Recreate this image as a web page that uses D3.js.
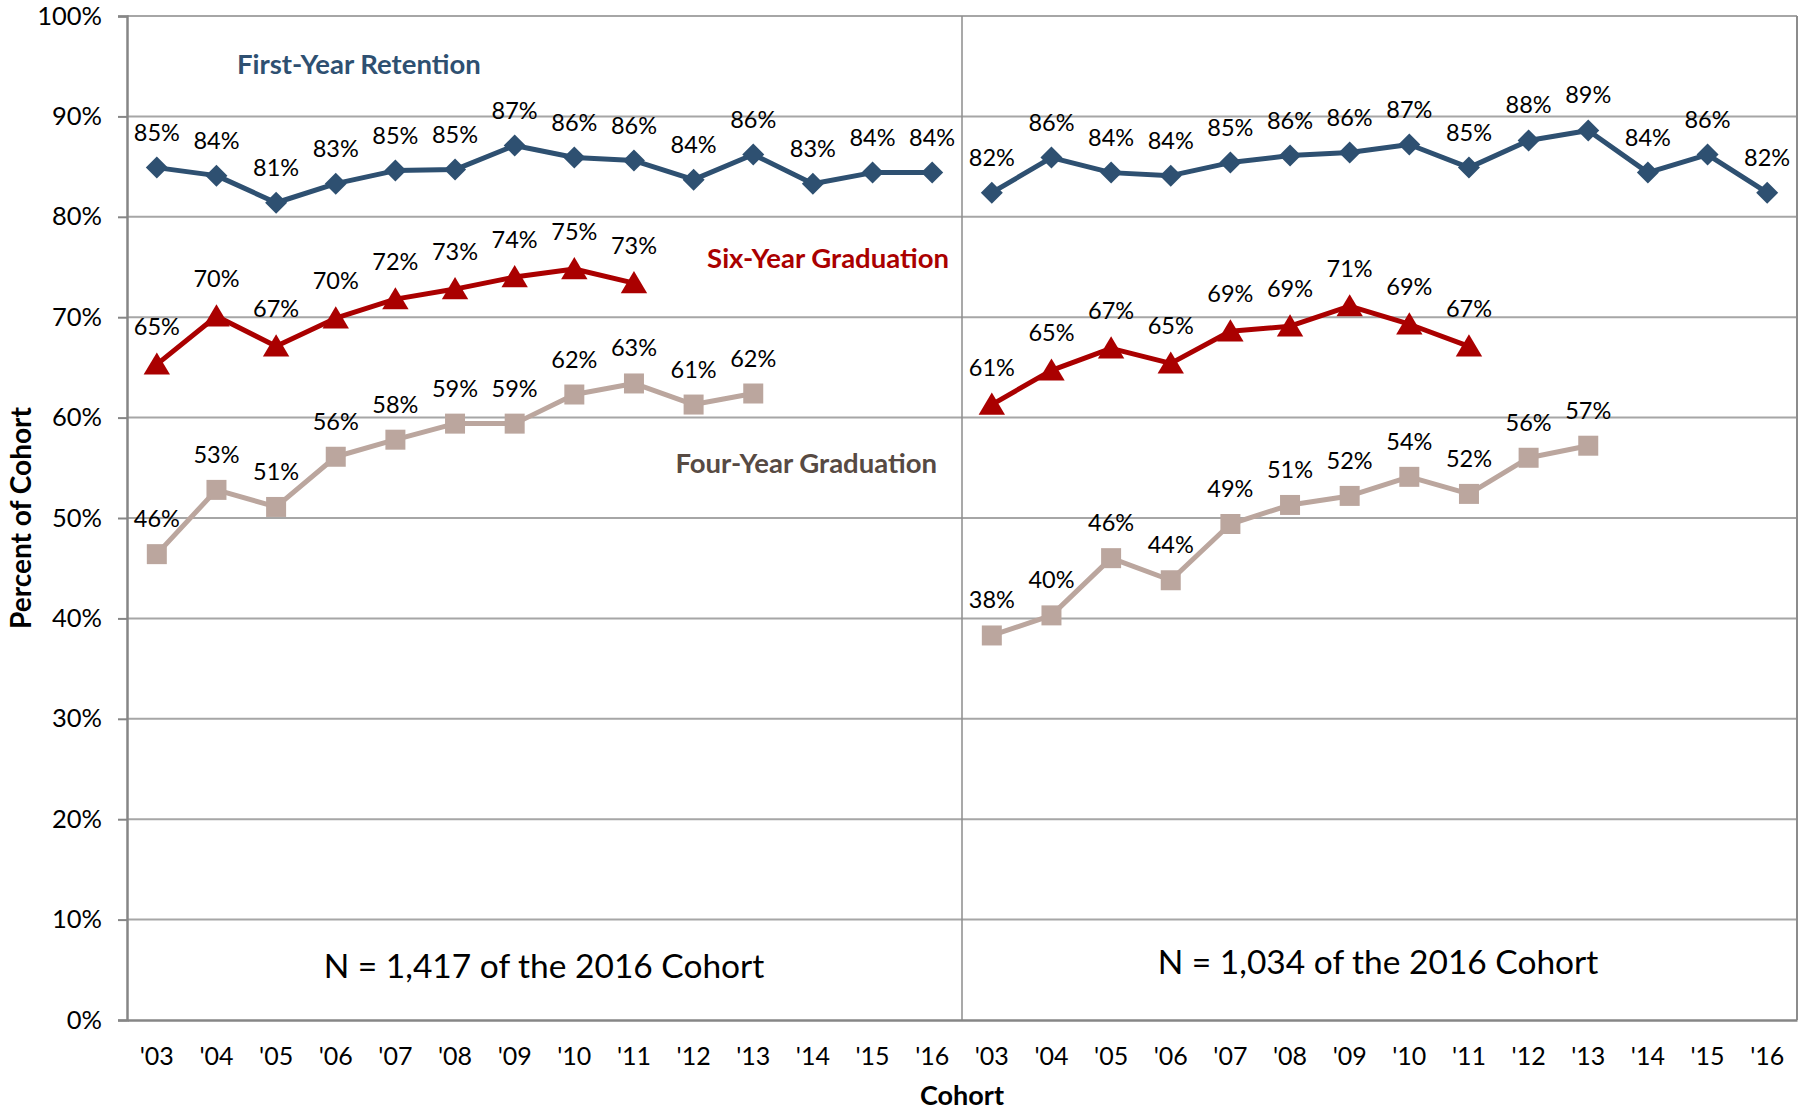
<!DOCTYPE html>
<html>
<head>
<meta charset="utf-8">
<script src="https://cdn.jsdelivr.net/npm/d3@7"></script>
<style>
  html, body { margin: 0; padding: 0; background: #ffffff; }
  svg { display: block; font-family: Lato, "Open Sans", sans-serif; }
</style>
</head>
<body>
<svg id="chart" width="1810" height="1113"></svg>
<script>
// ---------------- DATA ----------------
const cohorts = ["'03","'04","'05","'06","'07","'08","'09","'10","'11","'12","'13","'14","'15","'16"];
const panels = ["left", "right"];
const yTicks = [0, 10, 20, 30, 40, 50, 60, 70, 80, 90, 100];

// Left panel
const retentionLeft = [84.9, 84.1, 81.4, 83.3, 84.6, 84.7, 87.1, 85.9, 85.6, 83.7, 86.2, 83.3, 84.4, 84.4];
const sixYearLeft   = [65.3, 70.1, 67.1, 69.9, 71.8, 72.8, 74.0, 74.8, 73.4];
const fourYearLeft  = [46.4, 52.8, 51.1, 56.1, 57.8, 59.4, 59.4, 62.3, 63.4, 61.3, 62.4];

// Right panel
const retentionRight = [82.4, 85.9, 84.4, 84.1, 85.4, 86.1, 86.4, 87.2, 84.9, 87.6, 88.6, 84.4, 86.2, 82.4];
const sixYearRight   = [61.3, 64.7, 66.9, 65.4, 68.6, 69.1, 71.1, 69.3, 67.1];
const fourYearRight  = [38.3, 40.3, 46.0, 43.8, 49.4, 51.3, 52.2, 54.1, 52.4, 56.0, 57.2];

const seriesNames = ["First-Year Retention", "Six-Year Graduation", "Four-Year Graduation"];
const panelNotes = ["N = 1,417 of the 2016 Cohort", "N = 1,034 of the 2016 Cohort"];
const yTitle = "Percent of Cohort";
const xTitle = "Cohort";

// ---------------- LAYOUT ----------------
const svg = d3.select("#chart");
const M = { left: 127, right: 1797, top: 16, bottom: 1020 };
const colors = { ret: "#2E5071", six: "#AA0000", four: "#BBA69E", fourText: "#574A43" };

const keys = [];
panels.forEach(p => cohorts.forEach(c => keys.push(p + c)));

const x = d3.scaleBand().domain(keys).range([M.left, M.right]).padding(0);
const y = d3.scaleLinear().domain([0, 100]).range([M.bottom, M.top]);
const cx = (p, i) => x(p + cohorts[i]) + x.bandwidth() / 2;

// gridlines
svg.append("g")
  .selectAll("line").data(yTicks.filter(t => t > 0)).join("line")
  .attr("x1", M.left).attr("x2", M.right)
  .attr("y1", d => y(d)).attr("y2", d => y(d))
  .attr("stroke", "#A6A6A6").attr("stroke-width", 2);

// plot border (right side)
svg.append("line").attr("x1", M.right).attr("x2", M.right).attr("y1", M.top).attr("y2", M.bottom)
  .attr("stroke", "#8C8C8C").attr("stroke-width", 2);
// divider between panels
const divX = x(panels[1] + cohorts[0]);
svg.append("line").attr("x1", divX).attr("x2", divX).attr("y1", M.top).attr("y2", M.bottom)
  .attr("stroke", "#8C8C8C").attr("stroke-width", 1.5);

// y axis
const yAxis = svg.append("g").attr("transform", `translate(${M.left},0)`)
  .call(d3.axisLeft(y).tickValues(yTicks).tickFormat(d => d + "%").tickSize(9).tickPadding(16));
yAxis.select(".domain").attr("stroke", "#868686").attr("stroke-width", 2.5);
yAxis.selectAll(".tick line").attr("stroke", "#868686").attr("stroke-width", 2);
yAxis.selectAll("text").attr("font-size", 25.5).attr("fill", "#000").attr("font-family", "Lato");

// x axis
const xAxis = svg.append("g").attr("transform", `translate(0,${M.bottom})`)
  .call(d3.axisBottom(x).tickFormat(k => k.replace(/^(left|right)/, "")).tickSize(0).tickPadding(27));
xAxis.select(".domain").attr("stroke", "#868686").attr("stroke-width", 2.5);
xAxis.selectAll("text").attr("font-size", 25).attr("fill", "#000").attr("font-family", "Lato");

// axis titles
svg.append("text").attr("transform", `translate(31,${(M.top + M.bottom) / 2}) rotate(-90)`)
  .attr("text-anchor", "middle").attr("font-weight", "bold").attr("font-size", 28).text(yTitle);
svg.append("text").attr("x", (M.left + M.right) / 2).attr("y", 1105)
  .attr("text-anchor", "middle").attr("font-weight", "bold").attr("font-size", 27).text(xTitle);

// ---------------- SERIES ----------------
const diamond = r => `M0,${-r}L${r},0L0,${r}L${-r},0Z`;
const triangle = r => `M0,${-r}L${r * 1.1},${r * 0.85}L${-r * 1.1},${r * 0.85}Z`;
const square = r => `M${-r},${-r}H${r}V${r}H${-r}Z`;

const series = [
  { panel: "left",  vals: retentionLeft,  color: colors.ret,  shape: diamond(11),  off: 27 },
  { panel: "left",  vals: sixYearLeft,    color: colors.six,  shape: triangle(12), off: 29 },
  { panel: "left",  vals: fourYearLeft,   color: colors.four, shape: square(10),   off: 27 },
  { panel: "right", vals: retentionRight, color: colors.ret,  shape: diamond(11),  off: 27 },
  { panel: "right", vals: sixYearRight,   color: colors.six,  shape: triangle(12), off: 29 },
  { panel: "right", vals: fourYearRight,  color: colors.four, shape: square(10),   off: 27 }
];

const line = d3.line().x(d => d.x).y(d => d.y);

series.forEach(s => {
  const pts = s.vals.map((v, i) => ({ x: cx(s.panel, i), y: y(v), v }));
  const g = svg.append("g");
  g.append("path").attr("d", line(pts)).attr("fill", "none")
    .attr("stroke", s.color).attr("stroke-width", 5).attr("stroke-linejoin", "round");
  g.selectAll("path.m").data(pts).join("path").attr("class", "m")
    .attr("transform", d => `translate(${d.x},${d.y})`)
    .attr("d", s.shape).attr("fill", s.color);
  g.selectAll("text").data(pts).join("text")
    .attr("x", d => d.x).attr("y", d => d.y - s.off)
    .attr("text-anchor", "middle").attr("font-size", 23.5).attr("fill", "#000")
    .text(d => Math.round(d.v) + "%");
});

// series name labels
svg.append("text").attr("x", 237).attr("y", 74).attr("font-weight", "bold").attr("font-size", 27.5)
  .attr("fill", colors.ret).text(seriesNames[0]);
svg.append("text").attr("x", 949).attr("y", 268).attr("text-anchor", "end").attr("font-weight", "bold").attr("font-size", 27.5)
  .attr("fill", colors.six).text(seriesNames[1]);
svg.append("text").attr("x", 937).attr("y", 473).attr("text-anchor", "end").attr("font-weight", "bold").attr("font-size", 27.5)
  .attr("fill", colors.fourText).text(seriesNames[2]);

// panel notes
const panelCenters = [544, 1378];
svg.selectAll("text.note").data(panelNotes).join("text").attr("class", "note")
  .attr("x", (d, i) => panelCenters[i]).attr("y", (d, i) => i === 0 ? 978 : 974)
  .attr("text-anchor", "middle").attr("font-size", 33.5).attr("fill", "#000").text(d => d);
</script>
</body>
</html>
